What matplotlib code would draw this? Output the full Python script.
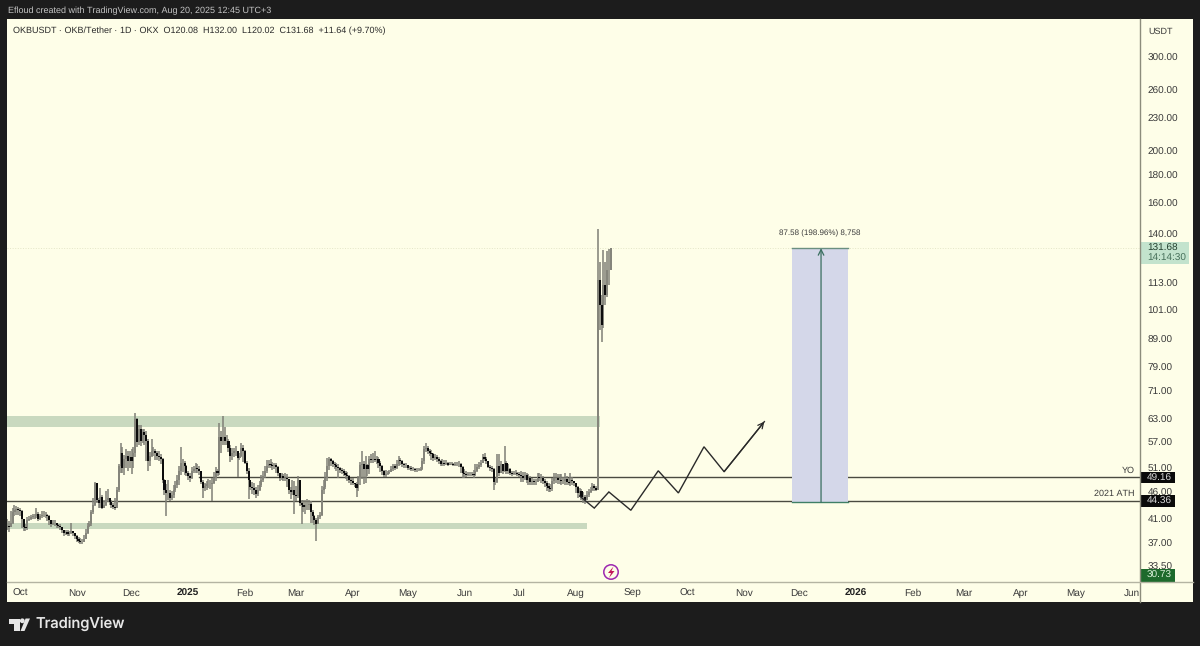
import datetime as dt
import numpy as np
import matplotlib
matplotlib.use("Agg")
import matplotlib.pyplot as plt
import matplotlib.dates as mdates
from matplotlib.patches import Rectangle, Polygon, Circle
from matplotlib.ticker import FixedLocator, FixedFormatter, NullLocator

plt.rcParams['font.family'] = ['Liberation Sans', 'DejaVu Sans']
plt.rcParams['text.hinting'] = 'no_hinting'
plt.rcParams['text.hinting_factor'] = 1

# ---------- data (daily, first bar 2024-09-24) ----------
closes = [
 39.8,39.6,40.4,42.2,42.6,42.8,42.6,42.4,41.1,39.6,
 39.4,40.8,41.1,41.3,41.5,41.5,42.0,41.1,41.5,41.8,
 41.8,41.8,41.5,40.8,40.1,40.4,40.4,39.9,39.8,39.6,
 39.1,38.6,38.8,38.4,38.6,38.9,38.6,38.2,37.7,37.4,
 37.2,37.2,37.7,38.6,39.8,40.1,42.2,43.5,47.9,44.5,
 43.9,45.1,43.0,43.5,44.5,44.9,44.1,43.5,43.2,43.0,
 46.5,51.5,54.5,51.1,53.1,53.8,52.6,53.6,52.6,54.5,
 63.2,57.1,60.5,57.5,59.6,59.0,57.5,52.6,53.8,55.0,
 55.0,54.5,53.8,53.6,53.1,48.5,46.5,45.9,45.9,44.9,
 45.5,46.5,47.5,48.5,50.5,52.2,52.2,51.5,50.0,49.3,
 49.0,50.5,50.9,51.1,50.9,50.5,48.1,46.9,47.3,47.7,
 47.7,47.7,47.9,49.0,50.5,50.0,58.3,57.5,58.5,57.5,
 57.5,55.7,53.8,54.5,55.0,55.0,53.3,53.8,55.7,55.0,
 52.2,50.5,48.5,47.1,46.9,46.5,45.7,46.5,47.5,48.5,
 49.4,50.5,51.5,52.0,51.7,51.5,51.7,51.3,50.0,49.0,
 49.3,49.0,49.0,48.7,46.5,46.1,46.5,45.5,45.3,48.5,
 43.9,43.5,43.2,43.5,43.5,43.7,42.2,41.5,40.8,40.2,
 41.3,41.8,46.5,47.1,49.0,51.5,53.1,52.6,52.0,51.7,
 51.3,51.1,50.7,50.5,50.0,49.6,49.3,48.5,48.3,47.9,
 47.7,46.9,49.0,51.7,52.0,50.9,51.7,50.9,53.1,52.9,
 53.1,52.9,53.1,52.2,51.5,50.5,49.6,49.8,50.0,50.2,
 50.9,51.5,51.1,52.0,52.9,52.6,52.0,51.7,51.7,51.1,
 51.1,50.9,50.9,50.7,50.7,50.7,50.9,52.6,55.4,55.7,
 55.0,54.5,54.3,53.3,53.6,53.1,52.6,52.0,52.2,52.0,
 52.2,51.8,52.0,52.0,51.8,52.0,52.0,52.0,51.3,50.0,
 49.8,49.6,49.8,49.8,49.8,49.6,50.5,51.3,51.7,52.2,
 53.6,53.1,52.6,51.3,51.1,50.9,48.1,48.1,51.5,50.0,
 52.0,50.5,52.2,50.5,50.9,50.0,49.8,50.0,50.0,49.8,
 49.6,49.3,49.0,49.6,48.5,49.0,48.1,48.3,48.1,48.1,
 49.2,49.0,49.0,48.3,47.9,47.3,46.9,46.7,48.3,49.0,
 49.0,48.5,48.5,48.3,48.3,48.7,48.1,47.9,48.5,48.3,
 47.9,47.1,45.9,46.3,45.1,45.1,44.5,45.5,46.1,46.5,47.3,46.9,46.5,
 114.8,103.1,94.6,112.4,107.6,119.9,120.08,131.68]
highs = [
 41.0,40.6,42.5,43.0,43.5,43.3,43.2,43.0,42.6,41.0,
 40.2,41.3,41.6,41.8,41.9,42.0,43.0,42.3,42.0,42.4,
 42.4,42.2,42.0,41.7,40.9,40.8,40.8,40.4,40.2,40.1,
 39.7,39.2,39.2,39.1,39.0,40.4,39.0,38.7,38.3,38.0,
 37.8,37.7,38.3,39.3,40.3,40.7,42.6,45.0,48.1,47.9,
 45.0,46.8,45.5,44.5,46.2,46.6,45.0,44.5,44.0,45.0,
 47.0,52.0,57.0,56.0,54.0,55.5,55.0,55.0,55.5,56.0,
 64.8,63.5,61.5,61.5,60.5,60.5,60.0,58.0,54.8,58.0,
 56.0,55.5,55.0,55.0,54.2,53.3,48.7,47.8,48.5,46.5,
 46.2,47.6,48.3,49.6,51.5,55.9,53.2,52.6,51.8,50.4,
 50.0,51.3,51.6,52.2,52.0,51.6,50.5,48.5,48.0,48.4,
 48.7,48.6,48.9,50.3,51.3,50.8,62.0,60.0,63.8,61.0,
 59.0,58.0,56.5,55.6,55.8,56.2,54.5,54.6,57.0,56.5,
 55.3,52.6,51.0,48.6,48.2,48.0,47.0,47.5,48.4,49.6,
 50.5,51.5,52.8,53.0,53.2,52.4,52.3,52.2,51.6,50.1,
 50.0,49.9,50.0,49.8,48.7,47.1,48.6,48.3,47.2,49.4,
 48.5,44.5,44.6,44.6,44.8,44.6,44.3,42.6,41.8,41.2,
 41.8,42.3,47.2,48.6,50.2,53.3,53.6,53.4,53.0,52.4,
 52.2,51.9,51.4,51.2,50.9,50.4,50.3,49.6,49.0,49.0,
 48.0,48.1,49.4,52.5,55.0,52.6,53.8,52.1,53.8,54.4,
 54.5,55.0,53.9,53.6,52.6,51.8,50.6,50.7,50.5,50.7,
 51.6,52.0,52.0,52.8,53.9,53.4,52.8,52.2,52.3,51.8,
 51.5,51.5,51.4,51.2,51.1,51.2,51.4,53.3,56.3,56.8,
 56.3,55.5,55.2,54.5,54.2,54.1,53.7,53.0,53.1,53.0,
 52.8,52.5,52.4,52.5,52.3,52.4,52.4,52.6,52.2,51.5,
 50.8,50.4,50.3,50.2,50.2,50.6,52.1,51.9,52.4,53.0,
 54.3,54.5,53.6,52.7,51.7,51.6,51.0,48.9,54.2,54.2,
 52.7,52.1,56.2,52.6,51.9,51.0,50.4,50.5,50.6,50.3,
 50.3,50.4,50.3,50.2,50.1,49.9,49.3,48.9,48.7,48.7,
 50.0,50.0,49.7,49.4,48.7,48.3,47.9,47.7,49.0,50.0,
 50.1,49.9,49.8,49.7,49.2,50.0,49.3,48.9,50.1,49.2,
 48.4,48.0,47.2,46.9,46.6,46.0,45.4,46.3,46.6,47.0,47.9,47.7,47.3,
 143.0,124.1,107.6,130.7,124.1,130.0,131.0,132.0]
lows = [
 39.2,38.8,39.6,40.2,41.5,41.8,41.8,41.5,39.5,39.0,
 39.0,39.2,40.6,40.9,41.0,41.1,41.2,40.7,40.8,41.2,
 41.3,41.2,40.6,39.9,39.6,39.9,39.8,39.5,39.4,39.1,
 38.7,38.2,38.3,38.1,38.2,38.4,38.1,37.6,37.2,37.0,
 36.9,36.9,37.1,37.7,38.5,39.6,39.8,42.0,43.3,43.9,
 43.0,43.1,42.8,43.0,43.4,44.1,43.5,43.0,42.8,42.7,
 45.0,46.0,50.0,50.0,49.5,51.0,50.5,51.0,49.8,51.0,
 53.5,56.0,56.5,56.2,56.8,56.5,52.6,50.5,51.5,53.5,
 53.8,53.0,52.8,52.7,52.0,48.0,45.5,41.6,44.6,44.3,
 44.5,45.0,46.0,46.8,47.5,49.6,50.3,49.6,49.4,48.6,
 48.2,48.8,50.1,50.0,50.0,49.5,47.8,44.9,46.3,46.5,
 46.8,46.7,44.4,47.7,48.3,49.3,49.5,54.5,56.5,56.5,
 56.5,54.8,52.5,53.0,53.6,53.8,49.2,52.8,53.5,52.5,
 51.9,49.8,44.7,46.4,45.6,45.4,44.9,45.3,46.2,47.0,
 48.2,49.0,50.0,51.0,51.1,50.6,50.9,50.1,49.4,48.4,
 48.6,48.3,48.4,47.1,45.7,44.8,45.4,42.0,44.3,45.0,
 43.3,40.2,42.3,41.9,42.6,42.6,40.4,40.4,40.0,37.4,
 40.4,41.0,41.6,45.6,46.7,48.4,50.6,51.6,51.3,50.9,
 50.4,49.0,50.0,49.8,49.4,48.8,48.4,47.9,47.4,47.4,
 47.1,45.2,46.3,47.4,48.8,47.7,47.9,49.4,49.8,52.2,
 52.2,52.4,51.9,51.2,50.3,49.5,49.1,49.1,49.5,49.7,
 50.2,50.4,50.6,50.8,51.6,51.7,51.3,51.1,51.2,50.7,
 50.6,50.5,50.4,50.3,50.3,50.4,50.4,50.7,52.1,54.7,
 54.3,53.9,53.0,52.7,52.8,52.4,51.9,51.6,51.6,51.5,
 51.7,51.5,51.7,51.7,51.5,51.6,51.6,51.3,50.0,49.0,
 49.0,49.1,49.3,49.4,49.3,48.9,49.4,50.3,50.9,51.3,
 52.2,52.6,51.9,51.0,50.5,50.2,46.5,47.5,48.0,49.4,
 50.0,49.9,50.2,49.9,49.7,49.6,49.4,49.6,49.6,49.4,
 49.2,48.2,48.2,48.5,48.0,47.6,47.6,47.6,47.5,47.6,
 48.6,48.3,48.0,47.8,47.0,46.2,46.0,46.0,46.3,47.8,
 48.0,47.7,47.7,47.6,47.8,47.5,47.4,47.4,47.3,47.6,
 47.2,45.9,45.0,45.2,44.5,43.9,43.7,44.5,45.2,45.9,46.3,46.2,46.2,
 46.4,92.6,87.9,93.4,103.0,106.7,112.4,120.02]
first_open = 39.6
first_bar = dt.date(2024, 9, 24)

price_ticks = [300, 260, 230, 200, 180, 160, 140, 113, 101, 89, 79, 71, 63, 57, 51, 46, 41, 37, 33.5]
month_dates = [dt.date(2024,10,1),dt.date(2024,11,1),dt.date(2024,12,1),dt.date(2025,1,1),dt.date(2025,2,1),
               dt.date(2025,3,1),dt.date(2025,4,1),dt.date(2025,5,1),dt.date(2025,6,1),dt.date(2025,7,1),
               dt.date(2025,8,1),dt.date(2025,9,1),dt.date(2025,10,1),dt.date(2025,11,1),dt.date(2025,12,1),
               dt.date(2026,1,1),dt.date(2026,2,1),dt.date(2026,3,1),dt.date(2026,4,1),dt.date(2026,5,1),dt.date(2026,6,1)]
month_labels = ['Oct','Nov','Dec','2025','Feb','Mar','Apr','May','Jun','Jul','Aug','Sep','Oct','Nov','Dec','2026','Feb','Mar','Apr','May','Jun']

yo_level, ath_level, last_price = 49.16, 44.36, 131.68
zone_top = (61.0, 63.9)
zone_bottom = (39.3, 40.4)
path_dates = [dt.date(2025,8,3),dt.date(2025,8,11),dt.date(2025,8,19),dt.date(2025,8,31),dt.date(2025,9,15),
              dt.date(2025,9,26),dt.date(2025,10,10),dt.date(2025,10,21),dt.date(2025,11,12)]
path_prices = [45.3,43.0,46.1,42.6,50.5,45.9,56.0,50.3,62.4]
pos_dates = (dt.date(2025,11,27), dt.date(2025,12,28))
pos_arrow_date = dt.date(2025,12,13)
pos_prices = (44.10, 131.68)

# ---------- figure frame ----------
W, H = 1200, 646
BG, CREAM, RULE = '#1c1c1c', '#fefee8', '#8c8c7c'
fig = plt.figure(figsize=(W/100, H/100), dpi=100, facecolor=BG)

bg = fig.add_axes([0, 0, 1, 1], zorder=0)
bg.set_xlim(0, W); bg.set_ylim(H, 0); bg.axis('off')
bg.add_patch(Rectangle((7, 19), 1186, 583, fc=CREAM, ec='none'))

ax = fig.add_axes([7/W, (H-582)/H, (1140-7)/W, (582-19)/H], zorder=1)
ax.patch.set_alpha(0)
for s in ax.spines.values():
    s.set_visible(False)
ax.set_yscale('log')
ax.set_ylim(31.28, 353.4)
base = mdates.date2num(dt.date(2024,10,1))
ax.set_xlim(base - 7.1, base + 612.4)

# ---------- price and time scales ----------
ax.yaxis.tick_right()
ax.yaxis.set_major_locator(FixedLocator(price_ticks))
ax.yaxis.set_major_formatter(FixedFormatter([f'{p:.2f}' for p in price_ticks]))
ax.yaxis.set_minor_locator(NullLocator())
ax.tick_params(axis='y', length=0, pad=5.5, labelsize=7, labelcolor='#3a3a3a')
ax.xaxis.set_major_locator(FixedLocator(mdates.date2num(month_dates)))
ax.xaxis.set_major_formatter(FixedFormatter(month_labels))
ax.xaxis.set_minor_locator(NullLocator())
ax.tick_params(axis='x', length=0, pad=4.5, labelsize=7, labelcolor='#3a3a3a')
for lab in ax.get_xticklabels():
    if lab.get_text() in ('2025', '2026'):
        lab.set_fontweight('bold'); lab.set_color('#222222')

# ---------- zones, levels ----------
dn = lambda d: mdates.date2num(d)
ax.fill_between([ax.get_xlim()[0], dn(dt.date(2025,8,14))], zone_top[0], zone_top[1], color='#c9d9bf', lw=0, zorder=1)
ax.fill_between([ax.get_xlim()[0], dn(dt.date(2025,8,7))], zone_bottom[0], zone_bottom[1], color='#c9d9bf', lw=0, zorder=1)
ax.plot([dn(dt.date(2025,1,7)), ax.get_xlim()[1]], [yo_level]*2, color='#4a4a40', lw=1.0, zorder=2)
ax.axhline(ath_level, color='#4a4a40', lw=1.0, zorder=2)
ax.axhline(last_price, color='#e4e6c8', lw=0.7, ls=':', zorder=1)

# ---------- candles ----------
c = np.array(closes); h = np.array(highs); l = np.array(lows)
o = np.r_[first_open, c[:-1]]
xs = mdates.date2num(first_bar) + np.arange(len(c))
up = c >= o
ax.vlines(xs, l, h, color='#7f7f76', lw=1.1, zorder=3)
ax.bar(xs[up], (c-o)[up], bottom=o[up], width=1.15, color='#85857b', lw=0, zorder=4)
ax.bar(xs[~up], (o-c)[~up], bottom=c[~up], width=1.15, color='#0c0c0c', lw=0, zorder=4)

# ---------- projection path ----------
px = mdates.date2num(path_dates)
ax.plot(px, path_prices, color='#2a2a2a', lw=1.0, zorder=5, solid_joinstyle='miter')
ax.annotate('', xy=(px[-1], path_prices[-1]), xytext=(px[-2], path_prices[-2]),
            arrowprops=dict(arrowstyle='->', color='#2a2a2a', lw=0.9, mutation_scale=10, shrinkA=0, shrinkB=0), zorder=5)

# ---------- long position tool ----------
pa, pb = dn(pos_dates[0]), dn(pos_dates[1])
ax.fill_between([pa, pb], pos_prices[0], pos_prices[1], color='#d4d7e9', lw=0, zorder=2)
ax.plot([pa, pb], [pos_prices[1]]*2, color='#6a8f80', lw=1.0, zorder=3)
ax.plot([pa, pb], [pos_prices[0]]*2, color='#3f7f66', lw=1.0, zorder=3)
ax.annotate('', xy=(dn(pos_arrow_date), pos_prices[1]), xytext=(dn(pos_arrow_date), pos_prices[0]),
            arrowprops=dict(arrowstyle='->', color='#3a6f60', lw=0.9, mutation_scale=10, shrinkA=0, shrinkB=0), zorder=5)

# ---------- overlay furniture ----------
ov = fig.add_axes([0, 0, 1, 1], zorder=2)
ov.patch.set_alpha(0)
ov.set_xlim(0, W); ov.set_ylim(H, 0); ov.axis('off')
ov.plot([1140, 1140], [19, 602], color=RULE, lw=1.0)
ov.plot([7, 1193], [582, 582], color='#b4b4a2', lw=1.0)

ov.text(8, 11, 'Efloud created with TradingView.com, Aug 20, 2025 12:45 UTC+3', color='#c4c4c4', fontsize=6.7, va='center')
ov.text(13, 31, 'OKBUSDT · OKB/Tether · 1D · OKX  O120.08  H132.00  L120.02  C131.68  +11.64 (+9.70%)',
        color='#2a2a2a', fontsize=6.6, va='center')
ov.text(1161, 32, 'USDT', color='#3a3a3a', fontsize=6.6, va='center', ha='center')
ov.text(820, 233, '87.58 (198.96%) 8,758', color='#3a3a3a', fontsize=5.8, va='center', ha='center')
ov.text(1135, 471, 'YO', color='#3a3a3a', fontsize=6.8, va='center', ha='right')
ov.text(1135, 494, '2021 ATH', color='#3a3a3a', fontsize=6.8, va='center', ha='right')

def price_box(y0, y1, x1, fc, lines):
    ov.add_patch(Rectangle((1141, y0), x1-1141, y1-y0, fc=fc, ec='none'))
    for ty, txt, col in lines:
        ov.text(1147, ty, txt, color=col, fontsize=7, va='center')

price_box(242, 264, 1189, '#c3e3cd', [(248, '131.68', '#24402f'), (258, '14:14:30', '#47705a')])
price_box(472, 483, 1175, '#0a0a0a', [(478, '49.16', '#d8d8d8')])
price_box(495, 507, 1175, '#0a0a0a', [(501, '44.36', '#d8d8d8')])
price_box(569, 582, 1175, '#1d6a2c', [(575.5, '30.73', '#d8efd8')])

# lightning badge
ov.add_patch(Circle((611, 572), 7.2, fc='none', ec='#9c27b0', lw=1.1))
ov.add_patch(Polygon([(613.5,566.5),(608,573),(611,573),(609,578),(614.5,571),(611.5,571)], fc='#c2185b', ec='none'))

# TradingView mark
ov.add_patch(Polygon([(8.5,618.5),(19.5,618.5),(19.5,631),(13.5,631),(13.5,623.5),(8.5,623.5)], fc='#e6e6e6', ec='none'))
ov.add_patch(Circle((22.3,620.8), 2.4, fc='#e6e6e6', ec='none'))
ov.add_patch(Polygon([(24.5,631),(30,618.5),(25.6,618.5),(20.5,631)], fc='#e6e6e6', ec='none'))
ov.text(35.5, 624, 'TradingView', color='#e6e6e6', fontsize=10.6, fontweight='medium', family='Inter', va='center')

fig.savefig('out.png', dpi=100, facecolor=BG)
